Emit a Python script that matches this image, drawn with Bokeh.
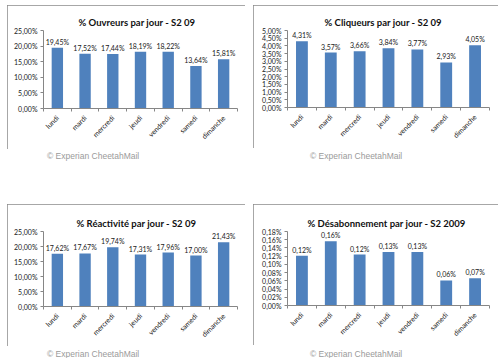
from math import pi
from bokeh.plotting import figure
from bokeh.models import Range1d, FixedTicker, CustomJSTickFormatter, Div, Spacer
from bokeh.layouts import column, row
from bokeh.core.properties import value
from bokeh.embed import file_html
from bokeh.resources import INLINE

# ---- data ----
DAYS = ["lundi", "mardi", "mercredi", "jeudi", "vendredi", "samedi", "dimanche"]

OUVREURS = [19.45, 17.52, 17.44, 18.19, 18.22, 13.64, 15.81]
OUV_TICKS = [0, 5, 10, 15, 20, 25]

CLIQUEURS = [4.31, 3.57, 3.66, 3.84, 3.77, 2.93, 4.05]
CLI_TICKS = [0, 0.5, 1.0, 1.5, 2.0, 2.5, 3.0, 3.5, 4.0, 4.5, 5.0]

REACTIVITE = [17.62, 17.67, 19.74, 17.31, 17.96, 17.00, 21.43]
REA_TICKS = [0, 5, 10, 15, 20, 25]

DESABO = [0.121, 0.156, 0.124, 0.130, 0.130, 0.061, 0.066]
DES_TICKS = [0, 0.02, 0.04, 0.06, 0.08, 0.10, 0.12, 0.14, 0.16, 0.18]

TITLES = ["% Ouvreurs par jour - S2 09", "% Cliqueurs par jour - S2 09",
          "% Réactivité par jour - S2 09", "% Désabonnement par jour - S2 2009"]
COPYRIGHT = "© Experian CheetahMail"

BAR = "#4F81BD"
AXIS = "#868686"
FONT = "Lato"
SMALL = "7px"


def panel(title, vals, ticks, w, h, bl, br, bt, bb, toff):
    n = len(DAYS)
    xs = [i + 0.5 for i in range(n)]
    p = figure(width=w, height=h, x_range=Range1d(0, n), y_range=Range1d(0, ticks[-1]),
               output_backend="svg", toolbar_location=None,
               min_border_left=bl, min_border_right=br, min_border_top=bt, min_border_bottom=bb,
               background_fill_color="white", border_fill_color="white",
               outline_line_color=None,
               styles={"outline": "1px solid #8a8a8a", "outline-offset": "-1px"})
    p.vbar(x=xs, top=vals, width=0.41, fill_color=BAR, line_color=None)
    labels = [f"{v:.2f}".replace(".", ",") + "%" for v in vals]
    p.text(x=xs, y=vals, text=labels, text_align="center", text_baseline="bottom",
           y_offset=-2, text_font=value(FONT), text_font_size=SMALL, text_color="#1a1a1a")

    p.title.text = title
    p.title.align = "left"
    p.title.offset = toff
    p.title.standoff = 6
    p.title.text_font = FONT
    p.title.text_font_size = "9.5px"
    p.title.text_font_style = "bold"
    p.title.text_color = "#111111"

    p.xgrid.visible = False
    p.ygrid.visible = False

    ya = p.yaxis[0]
    ya.ticker = FixedTicker(ticks=ticks)
    ya.formatter = CustomJSTickFormatter(code="return tick.toFixed(2).replace('.', ',') + '%';")
    ya.axis_line_color = AXIS
    ya.major_tick_line_color = AXIS
    ya.major_tick_out = 3
    ya.major_tick_in = 0
    ya.minor_tick_line_color = None
    ya.major_label_standoff = 3
    ya.major_label_text_font = FONT
    ya.major_label_text_font_size = SMALL
    ya.major_label_text_color = "#1a1a1a"

    xa = p.xaxis[0]
    xa.ticker = FixedTicker(ticks=xs, minor_ticks=list(range(n + 1)))
    xa.formatter = CustomJSTickFormatter(args=dict(days=DAYS),
                                         code="return days[Math.round(tick - 0.5)];")
    xa.axis_line_color = AXIS
    xa.major_tick_out = 0
    xa.major_tick_in = 0
    xa.minor_tick_line_color = AXIS
    xa.minor_tick_out = 3
    xa.minor_tick_in = 0
    xa.major_label_orientation = pi / 4
    xa.major_label_standoff = 5
    xa.major_label_text_font = FONT
    xa.major_label_text_font_size = SMALL
    xa.major_label_text_color = "#1a1a1a"
    return p


p1 = panel(TITLES[0], OUVREURS, OUV_TICKS, 238, 144, 36, 8, 22, 41, 35)
p2 = panel(TITLES[1], CLIQUEURS, CLI_TICKS, 245, 143, 34, 9, 25, 40, 37)
p3 = panel(TITLES[2], REACTIVITE, REA_TICKS, 238, 142, 36, 8, 27, 40, 33)
p4 = panel(TITLES[3], DESABO, DES_TICKS, 245, 141, 34, 9, 27, 40, 20)


def cr_div(h, top):
    span = ("position:absolute;top:%dpx;left:%dpx;white-space:nowrap;"
            "font-family:'Liberation Sans',Arial,sans-serif;font-size:8.5px;color:#9a9a9a;")
    html = ('<div style="position:relative;width:498px;height:%dpx;">' % h
            + '<span style="' + span % (top, 47) + '">' + COPYRIGHT + '</span>'
            + '<span style="' + span % (top, 310) + '">' + COPYRIGHT + '</span></div>')
    return Div(text=html, width=498, height=h, margin=(0, 0, 0, 0))


layout = column(
    Spacer(width=498, height=5),
    row(Spacer(width=7, height=144), p1, Spacer(width=8, height=144), p2),
    cr_div(55, 1),
    row(Spacer(width=7, height=142), p3, Spacer(width=8, height=142), p4),
    cr_div(11, 1),
)

open("out.html", "w").write(file_html(layout, INLINE))
